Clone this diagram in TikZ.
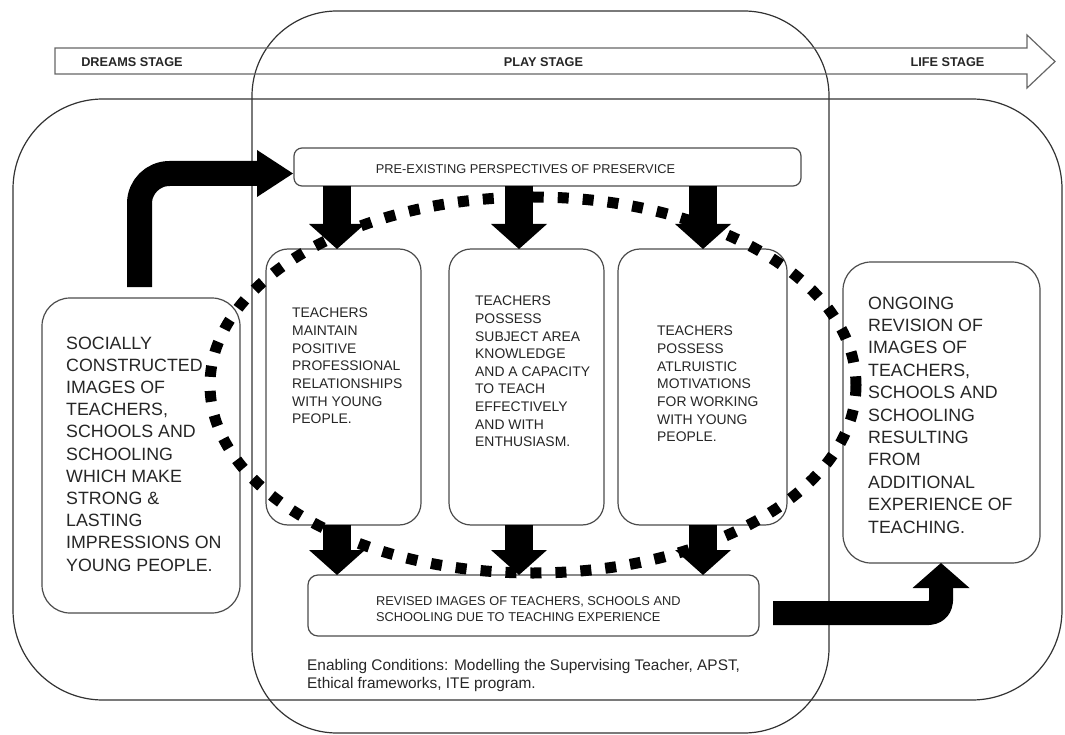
\documentclass[tikz,border=0pt]{standalone}
\usepackage{fontspec}
\setmainfont{Liberation Sans}
\usetikzlibrary{arrows.meta}
\begin{document}
\begin{tikzpicture}[x=1pt,y=-1pt,
  outline/.style={draw=black!80, line width=1.2pt},
  panel/.style={draw=black!70, line width=1.2pt, fill=white, rounded corners=#1,
    inner sep=0pt, outer sep=0pt, rectangle},
  bodytext/.style={inner sep=0pt, align=left, anchor=west, text=black!85},
  stagelabel/.style={inner sep=0pt, text=black!85,
    font=\fontsize{12.7pt}{14pt}\selectfont\bfseries},
  downarrow/.style={line width=28pt, line cap=butt,
    -{Triangle[width=56pt,length=25pt,line width=0pt]}},
  bentarrow/.style={line width=#1, line cap=butt, line join=round},
  dotring/.style={line width=11pt, dash pattern=on 11pt off 14pt, line cap=butt}
]
\useasboundingbox (0,0) rectangle (1065,735);

% the three stage regions
\draw[outline, rounded corners=90pt] (13,99) rectangle (1062,700);
\draw[outline, rounded corners=85pt] (252,11) rectangle (829,733);

% stage timeline arrow
\draw[draw=black!60, line width=1.2pt, line join=miter]
  (55,48) -- (1027,48) -- (1027,35) -- (1055,61.5) -- (1027,88) -- (1027,74)
  -- (55,74) -- cycle;
\node[stagelabel] (sdream) at (132,62) {DREAMS STAGE};
\node[stagelabel] (splay)  at (543.5,62) {PLAY STAGE};
\node[stagelabel] (slife)  at (947.5,62) {LIFE STAGE};

% boxes
\node[panel=8pt,  minimum width=507pt, minimum height=38pt]  (pre)  at (547.5,167) {};
\node[panel=22pt, minimum width=155pt, minimum height=276pt] (b1)   at (343.5,387) {};
\node[panel=22pt, minimum width=155pt, minimum height=276pt] (b2)   at (526.5,387) {};
\node[panel=22pt, minimum width=169pt, minimum height=276pt] (b3)   at (702.5,387) {};
\node[panel=28pt, minimum width=198pt, minimum height=315pt] (lbox) at (141,455.5) {};
\node[panel=28pt, minimum width=197pt, minimum height=301pt] (rbox) at (941.5,412.5) {};
\node[panel=10pt, minimum width=451pt, minimum height=61pt]  (rev)  at (533.5,605.5) {};

% texts
\node[bodytext, anchor=center, font=\fontsize{12.8pt}{15pt}\selectfont] (pretext) at (525.5,169)
  {PRE-EXISTING PERSPECTIVES OF PRESERVICE};
\node[bodytext, font=\fontsize{13.9pt}{17.7pt}\selectfont] (b1text) at (292,366)
  {TEACHERS\\MAINTAIN\\POSITIVE\\PROFESSIONAL\\RELATIONSHIPS\\WITH YOUNG\\PEOPLE.};
\node[bodytext, font=\fontsize{13.9pt}{17.6pt}\selectfont] (b2text) at (475,371.5)
  {TEACHERS\\POSSESS\\SUBJECT AREA\\KNOWLEDGE\\AND A CAPACITY\\TO TEACH\\EFFECTIVELY\\AND WITH\\ENTHUSIASM.};
\node[bodytext, font=\fontsize{13.9pt}{17.7pt}\selectfont] (b3text) at (657,384)
  {TEACHERS\\POSSESS\\ATLRUISTIC\\MOTIVATIONS\\FOR WORKING\\WITH YOUNG\\PEOPLE.};
\node[bodytext, font=\fontsize{17.8pt}{22.2pt}\selectfont] (ltext) at (66,454)
  {SOCIALLY\\CONSTRUCTED\\IMAGES OF\\TEACHERS,\\SCHOOLS AND\\SCHOOLING\\WHICH MAKE\\STRONG \&\\LASTING\\IMPRESSIONS ON\\YOUNG PEOPLE.};
\node[bodytext, font=\fontsize{17.8pt}{22.4pt}\selectfont] (rtext) at (868,415)
  {ONGOING\\REVISION OF\\IMAGES OF\\TEACHERS,\\SCHOOLS AND\\SCHOOLING\\RESULTING\\FROM\\ADDITIONAL\\EXPERIENCE OF\\TEACHING.};
\node[bodytext, font=\fontsize{12.8pt}{16pt}\selectfont] (revtext) at (376,609)
  {REVISED IMAGES OF TEACHERS, SCHOOLS AND\\SCHOOLING DUE TO TEACHING EXPERIENCE};
\node[bodytext, font=\fontsize{15.4pt}{18pt}\selectfont] (enabling) at (307,676)
  {Enabling Conditions: Modelling the Supervising Teacher, APST,\\Ethical frameworks, ITE program.};

% arrow columns
\coordinate (c1) at (337,0);
\coordinate (c2) at (519,0);
\coordinate (c3) at (703,0);

% arrows from the preservice perspectives into the three boxes
\draw[downarrow] (pre.south -| c1) -- (b1.north -| c1);
\draw[downarrow] (pre.south -| c2) -- (b2.north -| c2);
\draw[downarrow] (pre.south -| c3) -- (b3.north -| c3);

% arrows from the three boxes into the revised images
\draw[downarrow] (b1.south -| c1) -- (rev.north -| c1);
\draw[downarrow] (b2.south -| c2) -- (rev.north -| c2);
\draw[downarrow] (b3.south -| c3) -- (rev.north -| c3);

% bent arrow: socially constructed images -> preservice perspectives
\coordinate (lstart) at (139.5,287);
\coordinate (lhead) at (257,173.5);
\draw[bentarrow=25pt, rounded corners=30pt] (lstart) |- (lhead);
\fill (lhead) ++(0,-23.5) -- ++(36,23.5) -- ++(-36,23.5) -- cycle;

% bent arrow: revised images -> ongoing revision
\coordinate (rstart) at (773,613);
\coordinate (rhead) at (941,588);
\draw[bentarrow=24pt, rounded corners=12pt] (rstart) -| (rhead);
\fill (rhead) ++(-28.5,0) -- (rbox.south -| rhead) -- ++(28.5,25) -- cycle;

% dotted ring around the three attribute boxes
\draw[dotring] (533,385) ellipse [x radius=323, y radius=188];

\end{tikzpicture}
\end{document}
